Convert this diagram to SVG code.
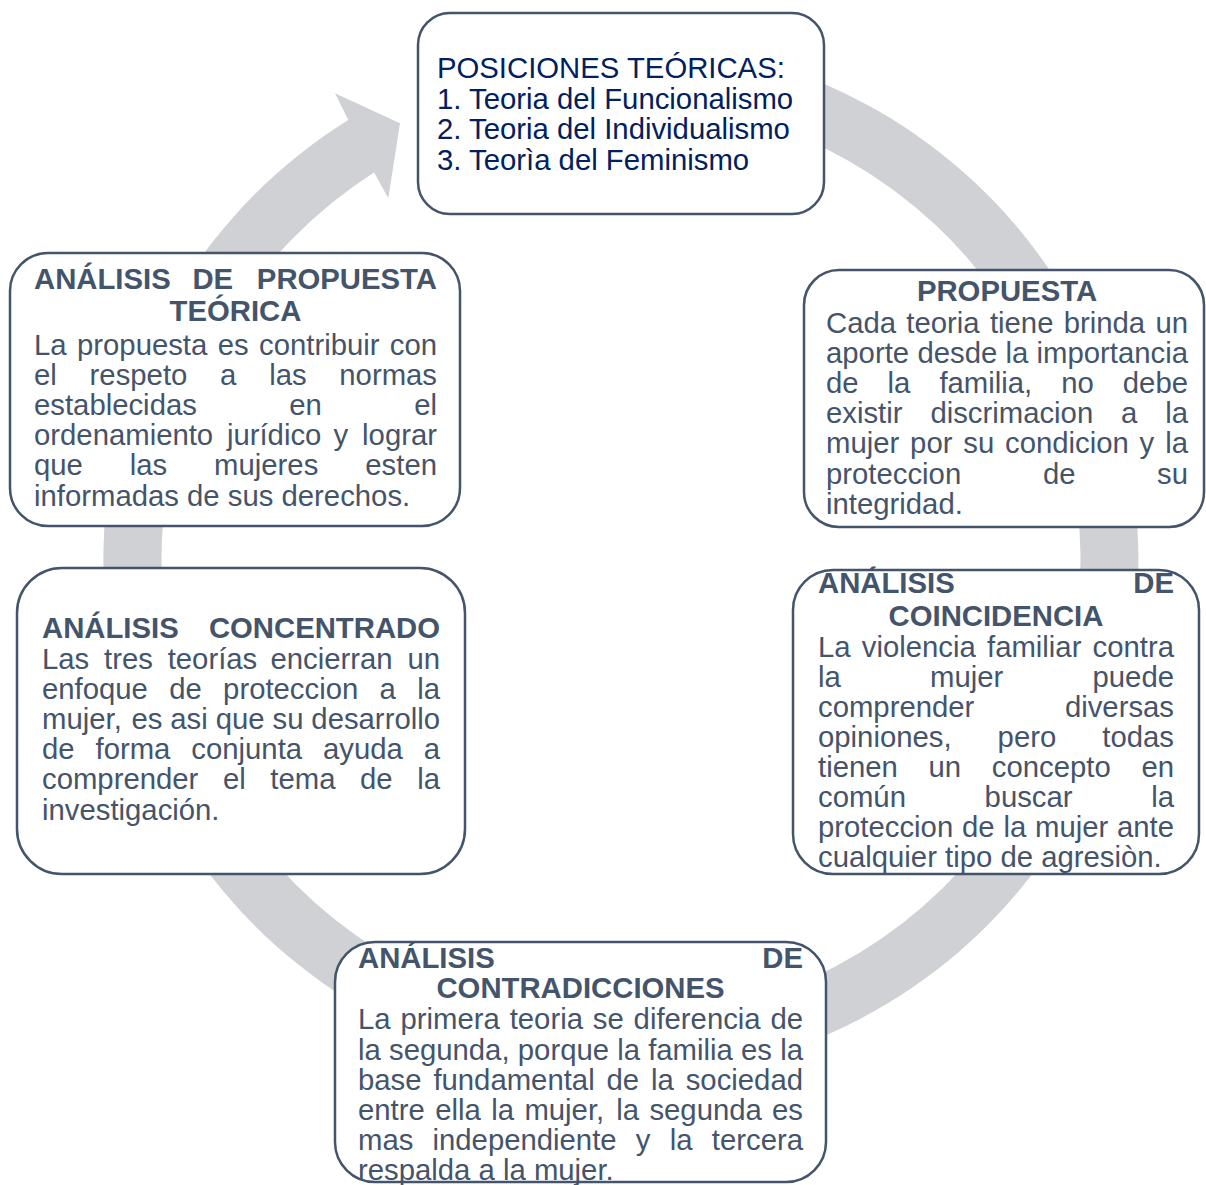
<svg xmlns="http://www.w3.org/2000/svg" width="1206" height="1185" viewBox="0 0 1206 1185">
<style>
.box{fill:#ffffff;stroke:#44546A;stroke-width:2.5}
.t{font-family:"Liberation Sans",Arial,sans-serif;font-size:29.3px;fill:#44546A}
.nv{fill:#002060}
.b{font-weight:bold}
.e{text-anchor:end}
.m{text-anchor:middle}
</style>
<rect width="1206" height="1185" fill="#ffffff"/>
<g id="connectors">
<path d="M710.86,50.36 A517.5,517.5 0 1 1 348.3,120.1 L335,93.3 L400,123.3 L388.3,198.3 L374.1,172.5 A459.5,459.5 0 1 0 700.8,107.5 Z" fill="#D0D1D5"/>
</g>
<g id="node-posiciones">
<rect class="box" x="418" y="13" width="406" height="201" rx="32"/>
<text class="t nv" x="437" y="78">POSICIONES TEÓRICAS:</text>
<text class="t nv" x="437" y="108.5">1. Teoria del Funcionalismo</text>
<text class="t nv" x="437" y="139">2. Teoria del Individualismo</text>
<text class="t nv" x="437" y="169.5">3. Teorìa del Feminismo</text>
</g>
<g id="node-propuesta">
<rect class="box" x="804" y="270" width="400" height="257" rx="35"/>
<text class="t b m" x="1007" y="301">PROPUESTA</text>
<text class="t" y="332.5"><tspan x="826">Cada</tspan><tspan x="906.3">teoria</tspan><tspan x="989.9">tiene</tspan><tspan x="1063.7">brinda</tspan></text>
<text class="t e" x="1188" y="332.5">un</text>
<text class="t" y="362.7"><tspan x="826">aporte</tspan><tspan x="917.4">desde</tspan><tspan x="1005.5">la</tspan></text>
<text class="t e" x="1188" y="362.7">importancia</text>
<text class="t" y="392.9"><tspan x="826">de</tspan><tspan x="887.6">la</tspan><tspan x="939.4">familia,</tspan><tspan x="1061.2">no</tspan></text>
<text class="t e" x="1188" y="392.9">debe</text>
<text class="t" y="423.1"><tspan x="826">existir</tspan><tspan x="930.4">discrimacion</tspan><tspan x="1121.1">a</tspan></text>
<text class="t e" x="1188" y="423.1">la</text>
<text class="t" y="453.3"><tspan x="826">mujer</tspan><tspan x="910.1">por</tspan><tspan x="963.3">su</tspan><tspan x="1005">condicion</tspan><tspan x="1139.6">y</tspan></text>
<text class="t e" x="1188" y="453.3">la</text>
<text class="t" y="483.5"><tspan x="826">proteccion</tspan><tspan x="1042.9">de</tspan></text>
<text class="t e" x="1188" y="483.5">su</text>
<text class="t" x="826" y="513.7">integridad.</text>
</g>
<g id="node-coincidencia">
<rect class="box" x="793" y="570" width="406" height="304" rx="40"/>
<text class="t b" x="818" y="593">ANÁLISIS</text>
<text class="t b e" x="1174" y="593">DE</text>
<text class="t b m" x="996" y="626">COINCIDENCIA</text>
<text class="t" y="656.7"><tspan x="818">La</tspan><tspan x="861.8">violencia</tspan><tspan x="987">familiar</tspan></text>
<text class="t e" x="1174" y="656.7">contra</text>
<text class="t" y="686.8"><tspan x="818">la</tspan><tspan x="930">mujer</tspan></text>
<text class="t e" x="1174" y="686.8">puede</text>
<text class="t" x="818" y="716.9">comprender</text>
<text class="t e" x="1174" y="716.9">diversas</text>
<text class="t" y="747"><tspan x="818">opiniones,</tspan><tspan x="997.6">pero</tspan></text>
<text class="t e" x="1174" y="747">todas</text>
<text class="t" y="777.1"><tspan x="818">tienen</tspan><tspan x="928.5">un</tspan><tspan x="991.8">concepto</tspan></text>
<text class="t e" x="1174" y="777.1">en</text>
<text class="t" y="807.2"><tspan x="818">común</tspan><tspan x="984.6">buscar</tspan></text>
<text class="t e" x="1174" y="807.2">la</text>
<text class="t" y="837.3"><tspan x="818">proteccion</tspan><tspan x="962">de</tspan><tspan x="1003.4">la</tspan><tspan x="1035">mujer</tspan></text>
<text class="t e" x="1174" y="837.3">ante</text>
<text class="t" x="818" y="867.4">cualquier tipo de agresiòn.</text>
</g>
<g id="node-contradicciones">
<rect class="box" x="335" y="942" width="491" height="240" rx="40"/>
<text class="t b" x="358" y="968">ANÁLISIS</text>
<text class="t b e" x="803" y="968">DE</text>
<text class="t b m" x="580.5" y="998">CONTRADICCIONES</text>
<text class="t" y="1029.3"><tspan x="358">La</tspan><tspan x="400.5">primera</tspan><tspan x="509.7">teoria</tspan><tspan x="592.8">se</tspan><tspan x="633.6">diferencia</tspan></text>
<text class="t e" x="803" y="1029.3">de</text>
<text class="t" y="1059.5"><tspan x="358">la</tspan><tspan x="389">segunda,</tspan><tspan x="517.8">porque</tspan><tspan x="617.2">la</tspan><tspan x="648.2">familia</tspan><tspan x="741">es</tspan></text>
<text class="t e" x="803" y="1059.5">la</text>
<text class="t" y="1089.7"><tspan x="358">base</tspan><tspan x="433.4">fundamental</tspan><tspan x="606.5">de</tspan><tspan x="651">la</tspan></text>
<text class="t e" x="803" y="1089.7">sociedad</text>
<text class="t" y="1119.9"><tspan x="358">entre</tspan><tspan x="435.2">ella</tspan><tspan x="491.2">la</tspan><tspan x="524.4">mujer,</tspan><tspan x="616.2">la</tspan><tspan x="649.4">segunda</tspan></text>
<text class="t e" x="803" y="1119.9">es</text>
<text class="t" y="1150.1"><tspan x="358">mas</tspan><tspan x="432.5">independiente</tspan><tspan x="635.8">y</tspan><tspan x="669.7">la</tspan></text>
<text class="t e" x="803" y="1150.1">tercera</text>
<text class="t" x="358" y="1180.3">respalda a la mujer.</text>
</g>
<g id="node-concentrado">
<rect class="box" x="17" y="568" width="448" height="306" rx="45"/>
<text class="t b" x="42" y="638">ANÁLISIS</text>
<text class="t b e" x="440" y="638">CONCENTRADO</text>
<text class="t" y="668.5"><tspan x="42">Las</tspan><tspan x="104">tres</tspan><tspan x="167.7">teorías</tspan><tspan x="270.4">encierran</tspan></text>
<text class="t e" x="440" y="668.5">un</text>
<text class="t" y="698.7"><tspan x="42">enfoque</tspan><tspan x="169.2">de</tspan><tspan x="223.1">proteccion</tspan><tspan x="379.6">a</tspan></text>
<text class="t e" x="440" y="698.7">la</text>
<text class="t" y="728.9"><tspan x="42">mujer,</tspan><tspan x="131.4">es</tspan><tspan x="170.3">asi</tspan><tspan x="215.7">que</tspan><tspan x="272.6">su</tspan></text>
<text class="t e" x="440" y="728.9">desarrollo</text>
<text class="t" y="759.1"><tspan x="42">de</tspan><tspan x="95.5">forma</tspan><tspan x="191.3">conjunta</tspan><tspan x="323">ayuda</tspan></text>
<text class="t e" x="440" y="759.1">a</text>
<text class="t" y="789.3"><tspan x="42">comprender</tspan><tspan x="222.9">el</tspan><tspan x="270.3">tema</tspan><tspan x="360">de</tspan></text>
<text class="t e" x="440" y="789.3">la</text>
<text class="t" x="42" y="819.5">investigación.</text>
</g>
<g id="node-analisis-propuesta">
<rect class="box" x="10" y="253" width="450" height="273" rx="38"/>
<text class="t b" y="289"><tspan x="34">ANÁLISIS</tspan><tspan x="192.4">DE</tspan></text>
<text class="t b e" x="437" y="289">PROPUESTA</text>
<text class="t b m" x="235.5" y="321">TEÓRICA</text>
<text class="t" y="355"><tspan x="34">La</tspan><tspan x="77">propuesta</tspan><tspan x="217.7">es</tspan><tspan x="259">contribuir</tspan></text>
<text class="t e" x="437" y="355">con</text>
<text class="t" y="385.1"><tspan x="34">el</tspan><tspan x="89.6">respeto</tspan><tspan x="220.1">a</tspan><tspan x="269.2">las</tspan></text>
<text class="t e" x="437" y="385.1">normas</text>
<text class="t" y="415.2"><tspan x="34">establecidas</tspan><tspan x="289.2">en</tspan></text>
<text class="t e" x="437" y="415.2">el</text>
<text class="t" y="445.3"><tspan x="34">ordenamiento</tspan><tspan x="226.9">jurídico</tspan><tspan x="333.5">y</tspan></text>
<text class="t e" x="437" y="445.3">lograr</text>
<text class="t" y="475.4"><tspan x="34">que</tspan><tspan x="129.8">las</tspan><tspan x="214.1">mujeres</tspan></text>
<text class="t e" x="437" y="475.4">esten</text>
<text class="t" x="34" y="505.5">informadas de sus derechos.</text>
</g>
</svg>
